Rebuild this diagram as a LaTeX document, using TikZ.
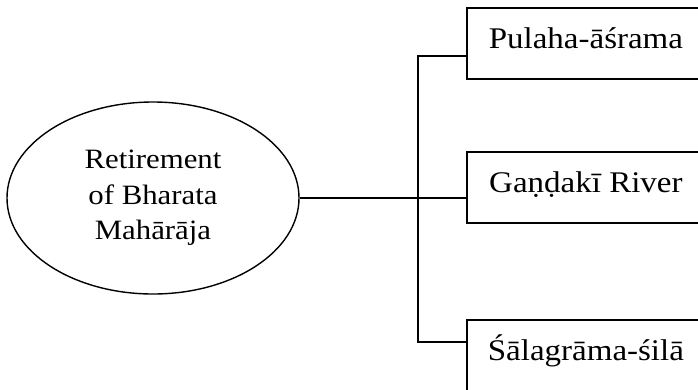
\documentclass[tikz,border=0pt]{standalone}
\usepackage{fontspec}
\setmainfont{Liberation Serif}
\usetikzlibrary{shapes.geometric}
\begin{document}
\begin{tikzpicture}[x=1pt,y=-1pt,
  link/.style={line width=1.5pt},
  hub/.style={draw, line width=1.4pt, ellipse, minimum width=292pt,
    minimum height=192pt, inner sep=0pt, align=center,
    font=\fontsize{28}{35.5}\selectfont},
  place/.style={draw, line width=1.8pt, rectangle, minimum width=238pt,
    minimum height=71pt, anchor=north west, inner sep=0pt,
    text height=21pt, text depth=10.6pt,
    font=\fontsize{30}{34}\selectfont}
]
\useasboundingbox (0,0) rectangle (698,389);
\clip (0,0) rectangle (698,389);

% central topic
\node[hub] (ret) at (153,198)
  {\scalebox{1.1}[1]{Retirement}\\\scalebox{1.1}[1]{of Bharata}\\\scalebox{1.1}[1]{Mahārāja}};

% the three places
\node[place] (pul) at (466,7)   {\scalebox{1.1}[1]{Pulaha-āśrama}};
\node[place] (gan) at (466,151) {\scalebox{1.1}[1]{Gaṇḍakī River}};
\node[place] (sal) at (466,319) {\scalebox{1.1}[1]{Śālagrāma-śilā}};

% bracket joining the places
\coordinate (top) at (418,56);
\coordinate (bot) at (418,342);
\draw[link] (ret.east) -- (ret.east -| gan.west);
\draw[link] (top -| pul.west) -- (top) -- (bot) -- (bot -| sal.west);
\end{tikzpicture}
\end{document}
